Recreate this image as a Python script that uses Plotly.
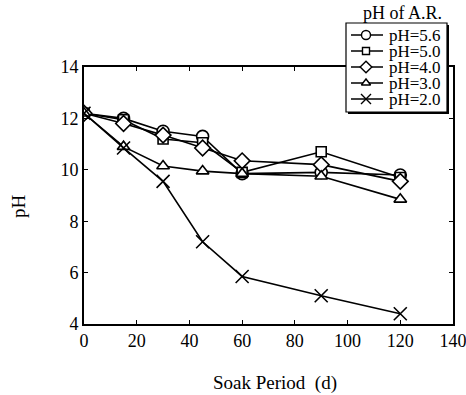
import plotly.graph_objects as go

# Soak period (days) and measured pH for each acid-rain pH level
days = [0, 15, 30, 45, 60, 90, 120]
ph_56 = [12.2, 12.0, 11.5, 11.3, 9.85, 9.9, 9.8]
ph_50 = [12.2, 11.95, 11.2, 11.05, 9.9, 10.7, 9.7]
ph_40 = [12.2, 11.8, 11.35, 10.85, 10.35, 10.2, 9.55]
ph_30 = [12.2, 10.9, 10.15, 9.95, 9.85, 9.75, 8.85]
ph_20 = [12.2, 10.85, 9.55, 7.2, 5.85, 5.1, 4.4]

series_names = ["pH=5.6", "pH=5.0", "pH=4.0", "pH=3.0", "pH=2.0"]
series_values = [ph_56, ph_50, ph_40, ph_30, ph_20]
symbols = ["circle", "square", "diamond", "triangle-up", "x-thin"]
fills = ["white", "white", "white", "white", "black"]
sizes = [12, 10, 12, 11, 13]

x_ticks = [0, 20, 40, 60, 80, 100, 120, 140]
y_ticks = [4, 6, 8, 10, 12, 14]

FONT = "Liberation Serif"
W, H = 466, 395

# plot frame in pixels (left, right, top, bottom)
PL, PR, PT, PB = 84, 453, 67, 324

fig = go.Figure()
for name, vals, sym, fc, sz in zip(series_names, series_values, symbols, fills, sizes):
    fig.add_trace(go.Scatter(
        x=days, y=vals, name=name, mode="lines+markers",
        line=dict(color="black", width=1.6),
        marker=dict(symbol=sym, size=sz, color=fc,
                    line=dict(color="black", width=1.6)),
        showlegend=False,
    ))

# Boxed key with a drop shadow, drawn on a pixel-scaled overlay subplot
KX0, KX1, KY0, KY1 = 346, 447, 23, 112
row_y = [35 + 16 * i for i in range(len(series_names))]
sample_x0, sample_xm, sample_x1, text_x = 351, 366, 383, 387

for name, sym, fc, sz, ry in zip(series_names, symbols, fills, sizes, row_y):
    fig.add_trace(go.Scatter(
        x=[sample_x0, sample_x1], y=[ry, ry], mode="lines",
        line=dict(color="black", width=1.5),
        xaxis="x2", yaxis="y2", showlegend=False, hoverinfo="skip",
    ))
    fig.add_trace(go.Scatter(
        x=[sample_xm], y=[ry], mode="markers",
        marker=dict(symbol=sym, size=sz - 3, color=fc,
                    line=dict(color="black", width=1.4)),
        xaxis="x2", yaxis="y2", showlegend=False, hoverinfo="skip",
    ))

annotations = [
    dict(text=name, xref="x2", yref="y2", x=text_x, y=ry,
         xanchor="left", yanchor="middle", showarrow=False,
         font=dict(family=FONT, size=17, color="black"))
    for name, ry in zip(series_names, row_y)
]
annotations += [
    dict(text="pH of A.R.", xref="x2", yref="y2", x=402, y=13,
         xanchor="center", yanchor="middle", showarrow=False,
         font=dict(family=FONT, size=18, color="black")),
    dict(text="Soak Period \u00a0(d)", xref="x2", yref="y2", x=275, y=383,
         xanchor="center", yanchor="middle", showarrow=False,
         font=dict(family=FONT, size=19, color="black")),
    dict(text="pH", xref="x2", yref="y2", x=18, y=206, textangle=-90,
         xanchor="center", yanchor="middle", showarrow=False,
         font=dict(family=FONT, size=19, color="black")),
]

shapes = [
    # shadow
    dict(type="rect", xref="x2", yref="y2", x0=KX0 + 2, x1=KX1 + 2, y0=KY0 + 2, y1=KY1 + 2,
         fillcolor="black", line=dict(width=0), layer="below"),
    # key box
    dict(type="rect", xref="x2", yref="y2", x0=KX0, x1=KX1, y0=KY0, y1=KY1,
         fillcolor="white", line=dict(color="black", width=1.2), layer="below"),
]

axis_common = dict(
    showline=True, linecolor="black", linewidth=1.6, mirror="ticks",
    ticks="inside", ticklen=4, tickcolor="black", tickwidth=1,
    showgrid=False, zeroline=False, automargin=False,
    ticklabeloverflow="allow",
    tickfont=dict(family=FONT, size=18, color="black"),
)

fig.update_layout(
    width=W, height=H,
    margin=dict(l=0, r=0, t=0, b=0),
    paper_bgcolor="white", plot_bgcolor="rgba(0,0,0,0)",
    font=dict(family=FONT, color="black"),
    showlegend=False,
    xaxis=dict(range=[0, 140], tickvals=x_ticks,
               domain=[PL / W, PR / W], anchor="y", **axis_common),
    yaxis=dict(range=[4, 14], tickvals=y_ticks,
               domain=[1 - PB / H, 1 - PT / H], anchor="x", **axis_common),
    xaxis2=dict(range=[0, W], domain=[0, 1], anchor="y2", visible=False,
                fixedrange=True),
    yaxis2=dict(range=[H, 0], domain=[0, 1], anchor="x2", visible=False,
                fixedrange=True),
    annotations=annotations,
    shapes=shapes,
)

fig.write_html("out.html")
